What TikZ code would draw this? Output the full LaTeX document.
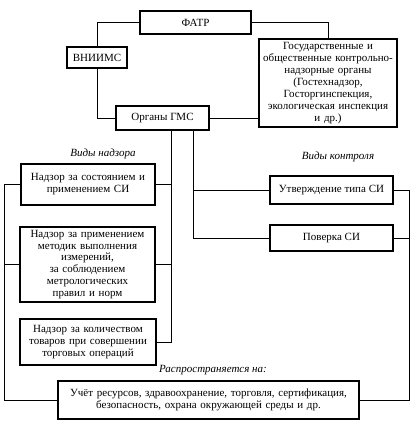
\documentclass[tikz,border=0pt]{standalone}
\usepackage{fontspec}
\setmainfont{Liberation Serif}
\begin{document}
\begin{tikzpicture}[x=1pt,y=-1pt,
  box/.style={draw,line width=1.3pt,inner sep=0pt,align=center,font=\fontsize{11}{11.9}\selectfont},
  conn/.style={line width=1pt},
  lbl/.style={font=\fontsize{11}{12}\selectfont\itshape,inner sep=0pt}]
\useasboundingbox (0,0) rectangle (416,428);
\node[box,minimum width=111pt,minimum height=23pt] (fatr) at (195.5,22.5) {ФАТР};
\node[box,minimum width=60pt,minimum height=21pt] (vn) at (97,57.5) {ВНИИМС};
\node[box,minimum width=138pt,minimum height=88pt,text width=137pt] (gos) at (328,83) {Государственные и\\общественные контрольно-\\надзорные органы\\(Гостехнадзор,\\Госторгинспекция,\\экологическая инспекция\\и др.)};
\node[box,minimum width=93pt,minimum height=24pt] (org) at (162.5,118) {Органы ГМС};
\node[box,minimum width=134pt,minimum height=41pt,text width=132pt] (n1) at (88,184.5) {Надзор за состоянием и\\применением СИ};
\node[box,minimum width=135pt,minimum height=75pt,text width=133pt] (n2) at (87.5,264.5) {Надзор за применением\\методик выполнения\\измерений,\\за соблюдением\\метрологических\\правил и норм};
\node[box,minimum width=136pt,minimum height=46pt,text width=134pt] (n3) at (88,342) {Надзор за количеством\\товаров при совершении\\торговых операций};
\node[box,minimum width=123pt,minimum height=28pt] (utv) at (331.5,190) {Утверждение типа СИ};
\node[box,minimum width=123pt,minimum height=26pt] (pov) at (331.5,238) {Поверка СИ};
\node[box,minimum width=301pt,minimum height=38pt,text width=299pt] (bot) at (208.5,400) {Учёт ресурсов, здравоохранение, торговля, сертификация,\\безопасность, охрана окружающей среды и др.};
\node[lbl] (l1) at (103,154) {Виды надзора};
\node[lbl] (l2) at (338,157) {Виды контроля};
\node[lbl] (l3) at (213,370) {Распространяется на:};
\coordinate (b1) at (171,0);
\coordinate (b2) at (193,0);
\coordinate (rr) at (409,0);
\coordinate (ll) at (4,0);
\draw[conn] (fatr.west) -| (vn.north);
\draw[conn] (vn.south) |- (org.west);
\draw[conn] (fatr.east) -| (gos.north);
\draw[conn] (org.east) -- (org.east -| gos.west);
\draw[conn] (org.south -| b1) |- (n3.east);
\draw[conn] (n1.east) -- (n1.east -| b1);
\draw[conn] (n2.east) -- (n2.east -| b1);
\draw[conn] (org.south -| b2) |- (pov.west);
\draw[conn] (utv.west) -- (utv.west -| b2);
\draw[conn] (utv.east) -| (rr |- bot.east) -- (bot.east);
\draw[conn] (pov.east) -- (pov.east -| rr);
\draw[conn] (n1.west) -| (ll |- bot.west) -- (bot.west);
\draw[conn] (n2.west) -- (n2.west -| ll);
\end{tikzpicture}
\end{document}
